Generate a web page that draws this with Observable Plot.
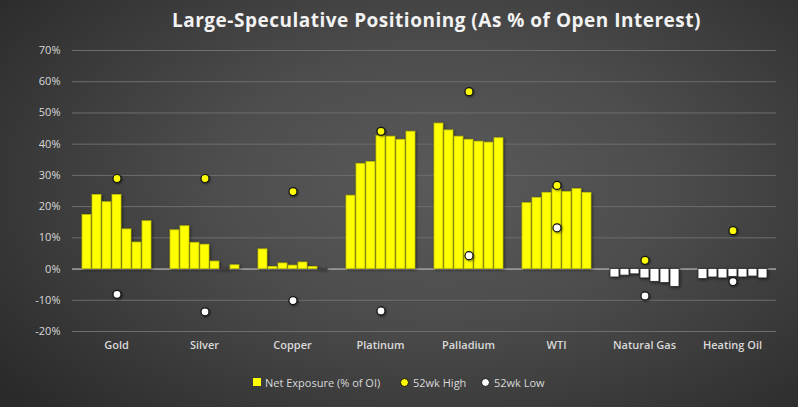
<!DOCTYPE html>
<html>
<head>
<meta charset="utf-8">
<script src="https://cdn.jsdelivr.net/npm/d3@7"></script>
<script src="https://cdn.jsdelivr.net/npm/@observablehq/plot@0.6"></script>
<style>
  html, body { margin: 0; padding: 0; background: #2a2a2a; }
  #chart {
    position: relative; width: 798px; height: 407px; overflow: hidden;
    background: radial-gradient(ellipse 70% 80% at 55% 45%, #5a5a5a 0%, #4d4d4d 40%, #2a2a2a 100%);
    font-family: "Open Sans", sans-serif;
  }
  #title {
    position: absolute; left: 172px; top: 7px; white-space: nowrap;
    color: #f2f2f2; font-size: 19px; font-weight: 700; letter-spacing: 0.5px;
  }
  #plot { position: absolute; left: 0; top: 40px; }
  #legend {
    position: absolute; top: 373px; left: 0; width: 798px; height: 18px;
    color: #d9d9d9; font-size: 11px;
  }
  .li { position: absolute; top: 0; display: flex; align-items: center; height: 18px; white-space: nowrap; }
  .sw { width: 8px; height: 8px; background: #ffff00; margin-right: 4px; }
  .dt { width: 7px; height: 7px; border-radius: 50%; border: 1px solid #111; margin-right: 4px; }
</style>
</head>
<body>
<div id="chart">
  <div id="title">Large-Speculative Positioning (As % of Open Interest)</div>
  <div id="plot"></div>
  <div id="legend">
    <div class="li" style="left:253px"><div class="sw"></div>Net Exposure (% of OI)</div>
    <div class="li" style="left:400px"><div class="dt" style="background:#ffff00"></div>52wk High</div>
    <div class="li" style="left:481px"><div class="dt" style="background:#ffffff"></div>52wk Low</div>
  </div>
</div>
<script>
const categories = ["Gold", "Silver", "Copper", "Platinum", "Palladium", "WTI", "Natural Gas", "Heating Oil"];
const weeks = [1, 2, 3, 4, 5, 6, 7];
const gold      = [17.3, 23.7, 21.4, 23.7, 12.7, 8.5, 15.3];
const silver    = [12.4, 13.7, 8.4, 7.8, 2.4, -0.3, 1.2];
const copper    = [6.3, 0.7, 1.8, 1.1, 2.1, 0.7, -0.3];
const platinum  = [23.5, 33.7, 34.3, 42.6, 42.4, 41.4, 44.0];
const palladium = [46.6, 44.4, 42.4, 41.4, 40.8, 40.5, 41.9];
const wti       = [21.1, 22.8, 24.4, 25.6, 24.7, 25.6, 24.4];
const natGas    = [-2.7, -2.1, -1.7, -3.0, -4.1, -4.5, -5.7];
const heatingOil= [-3.2, -2.7, -3.0, -2.5, -2.7, -2.4, -3.0];
const high52 = [29.0, 29.0, 24.8, 44.1, 56.8, 26.8, 2.8, 12.3];
const low52  = [-8.1, -13.7, -10.1, -13.4, 4.3, 13.2, -8.6, -4.0];
const yTicks = [-20, -10, 0, 10, 20, 30, 40, 50, 60, 70];

const series = [gold, silver, copper, platinum, palladium, wti, natGas, heatingOil];
const bars = categories.flatMap((c, i) => weeks.map((w, j) => ({cat: c, week: w, value: series[i][j]})));
const highs = categories.map((c, i) => ({cat: c, week: 4, value: high52[i]}));
const lows = categories.map((c, i) => ({cat: c, week: 4, value: low52[i]}));

const chart = Plot.plot({
  width: 798,
  height: 320,
  marginTop: 10,
  marginBottom: 29,
  marginLeft: 71,
  marginRight: 21,
  style: {background: "transparent", color: "#d9d9d9", fontFamily: "Open Sans, sans-serif", fontSize: "11px"},
  fx: {domain: categories, padding: 0, label: null},
  x: {domain: weeks, paddingInner: 0.14, paddingOuter: 0.716, axis: null},
  y: {domain: [-20, 70], axis: null},
  marks: [
    Plot.gridY(yTicks, {stroke: "#6e6e6e", strokeOpacity: 1, strokeWidth: 1}),
    Plot.axisY(yTicks, {tickSize: 0, tickPadding: 12, tickFormat: d => d + "%", fontSize: 11, fill: "#d9d9d9", label: null}),
    Plot.ruleY([0], {stroke: "#bfbfbf", strokeWidth: 1}),
    Plot.barY(bars, {
      fx: "cat", x: "week", y: "value",
      fill: d => d.value >= 0 ? "#ffff00" : "#ffffff",
      stroke: d => d.value >= 0 ? "#c4c400" : "#262626",
      strokeWidth: 0.8
    }),
    Plot.dot(highs, {fx: "cat", x: "week", y: "value", r: 4, fill: "#ffff00", stroke: "#111", strokeWidth: 1.2}),
    Plot.dot(lows, {fx: "cat", x: "week", y: "value", r: 4, fill: "#ffffff", stroke: "#111", strokeWidth: 1.2}),
    Plot.axisFx({anchor: "bottom", tickSize: 0, tickPadding: 10, fontWeight: 600, fontSize: 11, fill: "#d9d9d9", label: null})
  ]
});
document.getElementById("plot").appendChild(chart);
d3.select(chart).selectAll("g[aria-label='bar'] rect").style("filter", "drop-shadow(1.5px 1.5px 1.5px rgba(0,0,0,0.55))");
d3.select(chart).selectAll("g[aria-label='dot'] circle").style("filter", "drop-shadow(1px 1px 1px rgba(0,0,0,0.5))");
</script>
</body>
</html>
